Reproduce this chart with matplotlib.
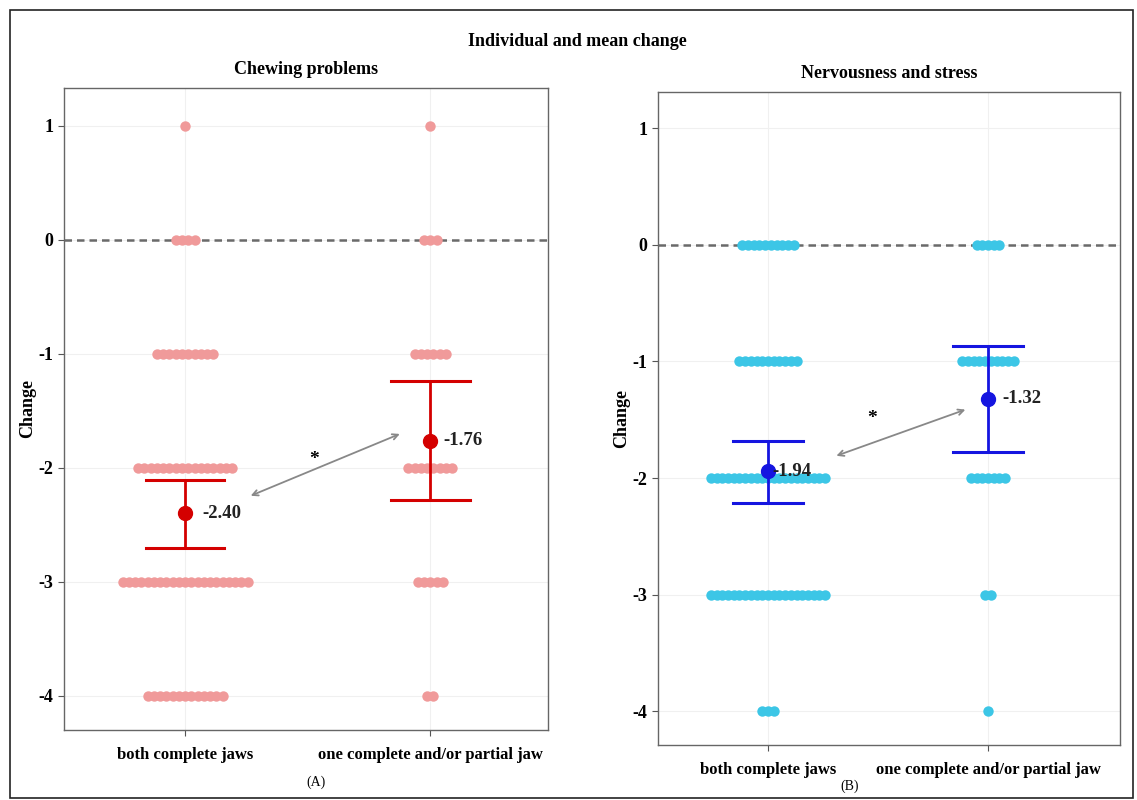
import matplotlib.pyplot as plt
import numpy as np
from matplotlib.patches import Rectangle

plt.rcParams['font.family'] = ['Liberation Serif', 'DejaVu Serif']
plt.rcParams['font.weight'] = 'bold'
plt.rcParams['axes.titleweight'] = 'bold'
plt.rcParams['axes.labelweight'] = 'bold'

groups = ['both complete jaws', 'one complete and/or partial jaw']
levels = [1, 0, -1, -2, -3, -4]

# dot counts per change level (1, 0, -1, -2, -3, -4)
chew_counts = [[1, 4, 10, 16, 21, 13], [1, 3, 6, 8, 5, 2]]
nerv_counts = [[0, 10, 11, 21, 21, 3], [0, 5, 10, 7, 2, 1]]

chew_mean = [-2.40, -1.76]
chew_lo = [-2.70, -2.28]
chew_hi = [-2.11, -1.24]
nerv_mean = [-1.94, -1.32]
nerv_lo = [-2.21, -1.78]
nerv_hi = [-1.68, -0.87]

fig = plt.figure(figsize=(11.37, 8), dpi=100)
fig.patches.append(Rectangle((10 / 1137, 2 / 800), 1123 / 1137, 788 / 800,
                             transform=fig.transFigure, fill=False,
                             edgecolor='#222222', lw=1.2))

ax1 = fig.add_axes([64 / 1137, 0.0875, 484 / 1137, 0.8025])
ax2 = fig.add_axes([658 / 1137, 0.06875, 462 / 1137, 0.816])


def panel(ax, counts, means, lo, hi, dotc, meanc, spacing, ylim, xlim, offs):
    ax.set_xlim(*xlim)
    ax.set_ylim(*ylim)
    ax.grid(True, color='#f0f0f0', lw=0.8)
    ax.set_axisbelow(True)
    ax.axhline(0, color='#6a6a6a', lw=1.8, ls=(0, (3, 2)), zorder=1)
    for gi, cnt in enumerate(counts):
        for lev, n in zip(levels, cnt):
            if n == 0:
                continue
            xs = gi + 1 + (np.arange(n) - (n - 1) / 2) * spacing
            ax.plot(xs, [lev] * n, 'o', color=dotc, ms=7.5, mec='none', zorder=2)
    for gi in range(2):
        x = gi + 1
        ax.plot([x, x], [lo[gi], hi[gi]], color=meanc, lw=2, zorder=3)
        for yv in (lo[gi], hi[gi]):
            ax.plot([x - 0.16, x + 0.16], [yv, yv], color=meanc, lw=2.2, zorder=3)
        ax.plot(x, means[gi], 'o', color=meanc, ms=10, zorder=4)
        ax.text(x + offs[gi], means[gi], '%.2f' % means[gi], fontsize=13.5,
                va='center', ha='left', color='#222222', zorder=5)
    ax.set_xticks([1, 2])
    ax.set_xticklabels(groups, fontsize=12)
    ax.set_yticks([1, 0, -1, -2, -3, -4])
    ax.set_yticklabels(['1', '0', '-1', '-2', '-3', '-4'], fontsize=13)
    ax.set_ylabel('Change', fontsize=13, labelpad=2)
    ax.tick_params(length=4, color='#555555')
    ax.tick_params(axis='x', pad=8)
    for s in ax.spines.values():
        s.set_color('#666666')
        s.set_linewidth(1)


panel(ax1, chew_counts, chew_mean, chew_lo, chew_hi, '#F09A9A', '#D40000',
      0.0255, (-4.30, 1.333), (0.506, 2.48), [0.07, 0.055])
panel(ax2, nerv_counts, nerv_mean, nerv_lo, nerv_hi, '#3CC6E6', '#1515E0',
      0.026, (-4.29, 1.31), (0.50, 2.60), [0.02, 0.065])

ax1.annotate('', xy=(1.886, -1.693), xytext=(1.257, -2.254),
             arrowprops=dict(arrowstyle='<->', color='#888888', lw=1.3))
ax1.text(1.527, -1.93, '*', fontsize=14, ha='center', va='center')
ax2.annotate('', xy=(1.909, -1.405), xytext=(1.299, -1.817),
             arrowprops=dict(arrowstyle='<->', color='#888888', lw=1.3))
ax2.text(1.475, -1.49, '*', fontsize=14, ha='center', va='center')

ax1.set_title('Chewing problems', fontsize=13, pad=10)
ax2.set_title('Nervousness and stress', fontsize=13, pad=10)
fig.text(577 / 1137, 1 - 42 / 800, 'Individual and mean change', fontsize=13,
         ha='center', va='center')
fig.text(316 / 1137, 1 - 782 / 800, '(A)', fontsize=10, fontweight='normal',
         ha='center', va='center')
fig.text(850 / 1137, 1 - 786 / 800, '(B)', fontsize=10, fontweight='normal',
         ha='center', va='center')

fig.savefig('out.png', dpi=100)
